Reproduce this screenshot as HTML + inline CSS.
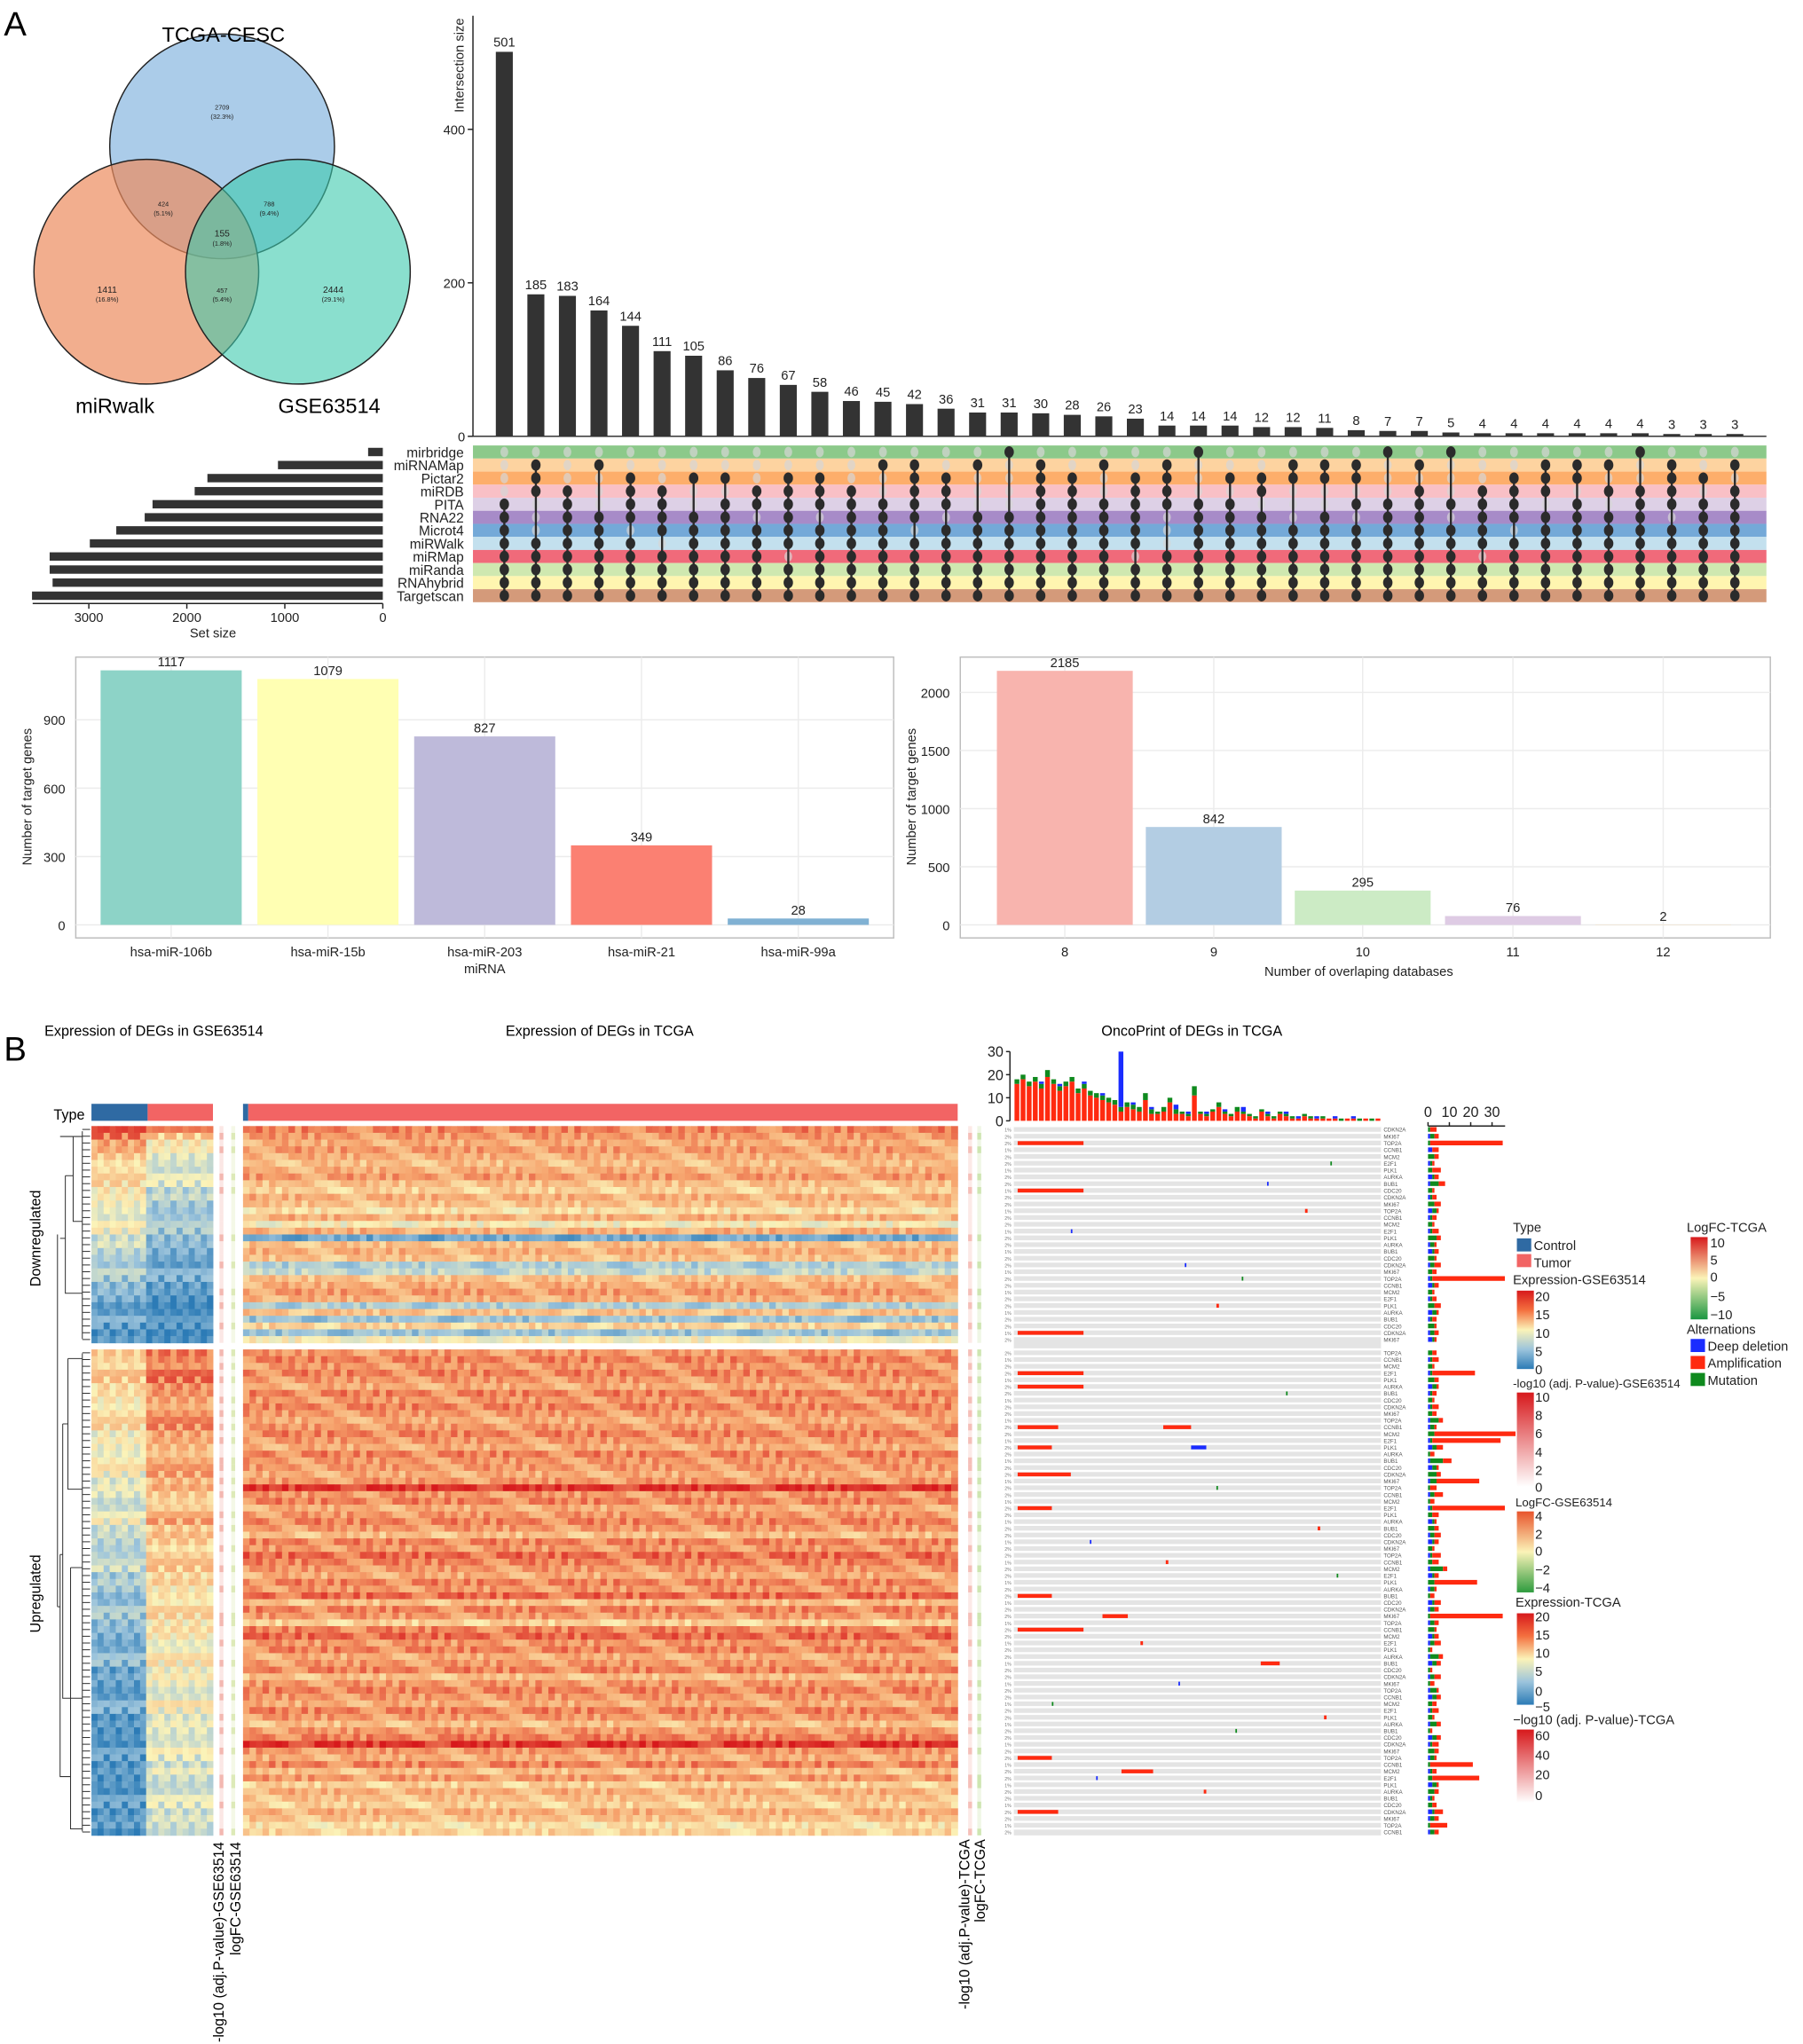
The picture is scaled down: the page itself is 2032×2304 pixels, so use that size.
<!DOCTYPE html>
<html><head><meta charset="utf-8">
<style>
html,body{margin:0;padding:0;background:#fff;}
svg{display:block;font-family:"Liberation Sans",sans-serif;}
</style></head>
<body>
<svg id="fig" width="2032" height="2304" viewBox="0 0 1380 1564.7" xmlns="http://www.w3.org/2000/svg">
<defs>
<linearGradient id="gExp" x1="0" y1="0" x2="0" y2="1"><stop offset="0" stop-color="#d7191c"/><stop offset="0.25" stop-color="#f4703f"/><stop offset="0.5" stop-color="#fbf3b8"/><stop offset="0.75" stop-color="#9cc4dc"/><stop offset="1" stop-color="#2c7bb6"/></linearGradient>
<linearGradient id="gP" x1="0" y1="0" x2="0" y2="1"><stop offset="0" stop-color="#d7191c"/><stop offset="1" stop-color="#ffffff"/></linearGradient>
<linearGradient id="gFC" x1="0" y1="0" x2="0" y2="1"><stop offset="0" stop-color="#e8542c"/><stop offset="0.5" stop-color="#fbf3b8"/><stop offset="1" stop-color="#2e9b3e"/></linearGradient>
<linearGradient id="gFC2" x1="0" y1="0" x2="0" y2="1"><stop offset="0" stop-color="#d7191c"/><stop offset="0.5" stop-color="#fbf3b8"/><stop offset="1" stop-color="#1a9641"/></linearGradient>
</defs>
<g id="root"></g>
<g>
<text x="3" y="27" font-size="26">A</text>
<text x="3" y="812" font-size="26">B</text>
</g>
<g>
<circle cx="170" cy="112" r="86" fill="#8fbbe2" fill-opacity="0.75" stroke="#222"/>
<circle cx="112" cy="208" r="86" fill="#ec8b5e" fill-opacity="0.7" stroke="#222"/>
<circle cx="228" cy="208" r="86" fill="#3cc9ad" fill-opacity="0.6" stroke="#222"/>
<g font-size="5" text-anchor="middle" fill="#222">
<text x="170" y="84">2709</text><text x="170" y="91">(32.3%)</text>
<text x="125" y="158">424</text><text x="125" y="165">(5.1%)</text>
<text x="206" y="158">788</text><text x="206" y="165">(9.4%)</text>
<text x="170" y="181" font-size="7">155</text><text x="170" y="188">(1.8%)</text>
<text x="82" y="224" font-size="7">1411</text><text x="82" y="231">(16.8%)</text>
<text x="170" y="224">457</text><text x="170" y="231">(5.4%)</text>
<text x="255" y="224" font-size="7">2444</text><text x="255" y="231">(29.1%)</text>
</g>
<text x="171" y="32" font-size="16" text-anchor="middle">TCGA-CESC</text>
<text x="88" y="316" font-size="16" text-anchor="middle">miRwalk</text>
<text x="252" y="316" font-size="16" text-anchor="middle">GSE63514</text>
</g>
<g font-size="11">
<text x="34" y="793">Expression of DEGs in GSE63514</text>
<text x="387" y="793">Expression of DEGs in TCGA</text>
<text x="843" y="793">OncoPrint of DEGs in TCGA</text>
<text x="41" y="857">Type</text>
<text transform="translate(31,948) rotate(-90)" text-anchor="middle">Downregulated</text>
<text transform="translate(31,1220) rotate(-90)" text-anchor="middle">Upregulated</text>
<text transform="translate(171,1410) rotate(-90)" text-anchor="end">-log10 (adj.P-value)-GSE63514</text>
<text transform="translate(184,1410) rotate(-90)" text-anchor="end">logFC-GSE63514</text>
<text transform="translate(742,1408) rotate(-90)" text-anchor="end">-log10 (adj.P-value)-TCGA</text>
<text transform="translate(754,1408) rotate(-90)" text-anchor="end">logFC-TCGA</text>
</g>
<g font-size="10" fill="#222">
<text x="1158" y="943">Type</text>
<rect x="1161" y="948" width="11" height="10" fill="#2f6aa3"/><text x="1174" y="957">Control</text>
<rect x="1161" y="960" width="11" height="10" fill="#f26464"/><text x="1174" y="970">Tumor</text>
<text x="1158" y="983">Expression-GSE63514</text>
<rect x="1161" y="988" width="13" height="60" fill="url(#gExp)"/>
<g font-size="10"><text x="1175" y="996">20</text><text x="1175" y="1010">15</text><text x="1175" y="1024">10</text><text x="1175" y="1038">5</text><text x="1175" y="1052">0</text></g>
<text x="1158" y="1062" font-size="9">-log10 (adj. P-value)-GSE63514</text>
<rect x="1161" y="1066" width="13" height="72" fill="url(#gP)"/>
<g><text x="1175" y="1073">10</text><text x="1175" y="1087">8</text><text x="1175" y="1101">6</text><text x="1175" y="1115">4</text><text x="1175" y="1129">2</text><text x="1175" y="1142">0</text></g>
<text x="1160" y="1153" font-size="9">LogFC-GSE63514</text>
<rect x="1161" y="1157" width="13" height="62" fill="url(#gFC)"/>
<g><text x="1175" y="1164">4</text><text x="1175" y="1178">2</text><text x="1175" y="1191">0</text><text x="1175" y="1205">−2</text><text x="1175" y="1219">−4</text></g>
<text x="1160" y="1230">Expression-TCGA</text>
<rect x="1161" y="1235" width="13" height="70" fill="url(#gExp)"/>
<g><text x="1175" y="1241">20</text><text x="1175" y="1255">15</text><text x="1175" y="1269">10</text><text x="1175" y="1283">5</text><text x="1175" y="1298">0</text><text x="1175" y="1310">−5</text></g>
<text x="1158" y="1320">−log10 (adj. P-value)-TCGA</text>
<rect x="1161" y="1324" width="13" height="56" fill="url(#gP)"/>
<g><text x="1175" y="1332">60</text><text x="1175" y="1347">40</text><text x="1175" y="1362">20</text><text x="1175" y="1378">0</text></g>
<text x="1291" y="943">LogFC-TCGA</text>
<rect x="1294" y="947" width="13" height="63" fill="url(#gFC2)"/>
<g><text x="1309" y="955">10</text><text x="1309" y="968">5</text><text x="1309" y="981">0</text><text x="1309" y="996">−5</text><text x="1309" y="1010">−10</text></g>
<text x="1291" y="1021">Alternations</text>
<rect x="1294" y="1025" width="11" height="10" fill="#1a2cff"/><text x="1307" y="1034">Deep deletion</text>
<rect x="1294" y="1038" width="11" height="10" fill="#ff2a10"/><text x="1307" y="1047">Amplification</text>
<rect x="1294" y="1051" width="11" height="10" fill="#0f8a1e"/><text x="1307" y="1060">Mutation</text>
</g>
</svg>
<script>
// ---------- DATA ----------
const upsetValues=[501,185,183,164,144,111,105,86,76,67,58,46,45,42,36,31,31,30,28,26,23,14,14,14,12,12,11,8,7,7,5,4,4,4,4,4,4,3,3,3];
const setNames=["mirbridge","miRNAMap","Pictar2","miRDB","PITA","RNA22","Microt4","miRWalk","miRMap","miRanda","RNAhybrid","Targetscan"];
const setSizes=[150,1070,1790,1920,2350,2430,2720,2990,3400,3400,3370,3580];
const setColors=["#8cc98a","#fdd3a0","#fdae6b","#f9c0c6","#ddd0e6","#a78bc8","#74a9d8","#c3e0ee","#f06a7a","#cfe8b0","#fff5b0","#d49a7a"];
const upsetMembership=["000011111111","011100011111","000111111111","010001111111","001111011111","000111101111","001001111111","001011111111","000110111111","001111110111","001110111111","000111111111","010011111111","011111011111","001110111111","010001111111","100001111111","011111111111","001111111111","010011111111","001111110111","011110001111","100011111111","001011111111","001101111111","011000111111","011001111111","011010111111","100011111111","010111111111","100010111111","000111110111","001111011111","011101111111","011011111111","010101111111","100111111111","011110111111","001011111111","010111111111"];
const mirnaNames=["hsa-miR-106b","hsa-miR-15b","hsa-miR-203","hsa-miR-21","hsa-miR-99a"];
const mirnaCounts=[1117,1079,827,349,28];
const mirnaColors=["#8dd3c7","#ffffb3","#bebada","#fb8072","#80b1d3"];
const dbCats=["8","9","10","11","12"];
const dbCounts=[2185,842,295,76,2];
const dbColors=["#f8b4ae","#b3cde3","#ccebc5","#decbe4","#fed9a6"];
const gseDownCtrl=[17,16,15,14,13,12,12,11,11,11,10,10,10,9,9,9,8,8,7,7,6,6,5,5,4,4,3,3,3,2,2,2];
const gseDownTum=[15,12,11,10,9,9,8,8,8,7,7,6,6,6,5,5,5,4,4,4,3,3,3,3,2,2,2,2,1,1,1,1];
const gseUpCtrl=[13,13,12,12,12,12,11,11,11,12,11,11,10,10,10,10,11,10,9,9,9,9,8,8,8,9,8,7,7,7,7,6,7,6,6,6,5,5,5,5,5,4,4,4,4,4,4,3,3,3,3,3,3,3,2,2,2,3,2,2,2,2,2,2,3,2,2,2,2,2,3,2];
const gseUpTum=[17,17,16,16,16,16,15,15,15,16,15,15,15,14,14,14,15,14,14,14,14,13,13,13,13,14,13,13,13,12,13,12,12,12,12,11,12,11,11,11,11,11,11,10,10,10,10,10,10,10,9,9,10,9,9,9,9,9,9,9,8,8,9,8,8,8,8,8,8,8,8,8];
const tcgaDown=[16,15,14,15,14,13,14,15,13,12,14,13,11,14,10,14,3,13,14,13,6,7,13,14,15,14,6,13,5,12,5,10];
const tcgaUp=[15,16,15,16,15,14,16,15,16,15,14,15,16,15,14,16,15,15,14,15,19,15,16,14,15,16,15,13,16,15,17,16,15,14,16,15,17,13,16,15,12,16,17,15,16,14,15,16,13,15,16,15,14,16,15,13,15,16,19,15,14,16,13,15,12,14,13,12,14,13,11,12];
const colJitter=[0.5,-1,0.3,1,-0.6,0.2,-1.2,0.8,0,-0.4,1.1,-0.8,0.4,-0.2,0.9,-0.5,0.7,-0.9,0.1,-1.1,0.6];
const oncoTopAmp=[16,18,15,17,14,19,16,13,15,17,12,14,11,10,9,8,7,4,6,5,4,9,3,3,4,8,3,3,2,11,3,2,4,6,3,2,4,3,2,1,4,2,1,3,2,1,1,2,1,1,1,1,1,0,1,1,0,1,0,1];
const oncoTopMut=[2,2,2,2,2,3,2,2,2,2,2,2,2,2,2,2,2,2,2,2,2,3,2,1,2,2,2,1,1,4,1,1,1,2,1,1,2,1,1,1,1,1,1,1,1,1,0,1,1,0,1,0,0,1,0,0,1,0,1,0];
const oncoTopDel=[0,0,0,0,1,0,0,1,0,0,0,1,0,0,1,0,0,24,0,1,0,0,1,0,0,0,2,0,1,0,0,1,0,0,1,0,0,2,0,0,0,1,0,0,1,0,1,0,0,1,0,0,1,0,0,1,0,0,0,0];
const oncoRightAmp=[3,2,34,3,2,1,4,2,3,1,2,3,1,2,1,3,2,1,2,1,3,2,34,2,1,2,3,1,2,1,2,1,2,3,1,20,2,1,2,1,3,2,2,1,38,32,3,2,4,1,2,20,3,4,2,34,3,1,2,3,2,1,4,3,2,2,20,1,2,3,2,34,2,1,2,3,1,2,2,1,3,2,1,2,2,3,1,2,1,2,3,2,1,20,2,22,1,2,1,2,4,2,8,2];
const oncoRightMut=[1,2,1,0,3,1,2,1,4,2,1,3,2,1,2,1,4,2,1,3,2,2,1,1,2,1,3,2,1,3,2,1,2,1,2,1,3,2,1,2,1,2,4,2,3,1,2,1,6,2,4,3,1,2,1,1,2,1,3,2,1,2,1,2,6,1,3,2,1,1,2,1,2,3,1,2,1,4,2,1,2,1,3,2,2,1,2,3,1,2,1,3,2,1,1,2,2,3,1,2,1,2,1,2];
const oncoRightDel=[0,1,0,2,0,1,0,2,1,0,1,0,2,1,0,1,0,1,2,0,1,0,1,2,0,1,0,2,1,0,1,2,0,1,0,1,0,2,1,0,1,0,1,1,0,1,2,0,1,2,0,1,0,1,0,1,0,2,0,1,2,0,1,0,1,2,0,1,0,2,1,0,1,0,2,1,0,1,2,0,1,0,1,2,0,1,0,1,0,2,1,0,1,0,1,0,2,0,1,0,2,1,0,1];
const oncoSegs=[[2,3,55,"amp"],[9,3,55,"amp"],[30,3,55,"amp"],[35,3,55,"amp"],[37,3,55,"amp"],[43,3,35,"amp"],[46,3,30,"amp"],[50,3,45,"amp"],[55,3,30,"amp"],[68,3,30,"amp"],[71,70,90,"amp"],[73,3,55,"amp"],[92,3,30,"amp"],[94,85,110,"amp"],[100,3,35,"amp"],[43,118,140,"amp"],[78,195,210,"amp"],[20,135,136,"del"],[15,45,46,"del"],[8,200,201,"del"],[46,140,152,"del"],[60,60,61,"del"],[81,130,131,"del"],[95,65,66,"del"],[5,250,251,"mut"],[22,180,181,"mut"],[38,215,216,"mut"],[52,160,161,"mut"],[65,255,256,"mut"],[84,30,31,"mut"],[88,175,176,"mut"],[12,230,232,"amp"],[26,160,162,"amp"],[58,240,242,"amp"],[63,120,122,"amp"],[75,100,102,"amp"],[86,245,247,"amp"],[97,150,152,"amp"]];

// ---------- HELPERS ----------
const NS="http://www.w3.org/2000/svg";
const root=document.getElementById('root');
function mk(tag,attrs,parent){const e=document.createElementNS(NS,tag);for(const k in attrs)e.setAttribute(k,attrs[k]);(parent||root).appendChild(e);return e;}
function txt(x,y,s,size,anchor,parent){const e=mk('text',{x:x,y:y,'font-size':size,'text-anchor':anchor||'start',fill:'#222'},parent);e.textContent=s;return e;}
function lerp(a,b,t){return a+(b-a)*t;}
function hex(c){return [parseInt(c.slice(1,3),16),parseInt(c.slice(3,5),16),parseInt(c.slice(5,7),16)];}
const expStops=[[0,"#2c7bb6"],[5,"#9cc4dc"],[10,"#fbf3b8"],[15,"#f6a06a"],[20,"#d7191c"]];
function expColor(v){v=Math.max(0,Math.min(20,v));for(let i=0;i<expStops.length-1;i++){const[a,ca]=expStops[i],[b,cb]=expStops[i+1];if(v<=b){const t=(v-a)/(b-a);const A=hex(ca),B=hex(cb);return `rgb(${Math.round(lerp(A[0],B[0],t))},${Math.round(lerp(A[1],B[1],t))},${Math.round(lerp(A[2],B[2],t))})`;}}return expStops[4][1];}

// ---------- UPSET TOP BARS ----------
const uY0=334, uScale=235/400;
function uy(v){return uY0-v*uScale;}
function ux(i){return 386+i*24.15;}
const gUp=mk('g',{});


const uAxis=mk('line',{x1:362,y1:12,x2:362,y2:uY0,stroke:'#222'},gUp);


const uBase=mk('line',{x1:362,y1:uY0,x2:1352,y2:uY0,stroke:'#222'},gUp);


[0,200,400].forEach(t=>{mk('line',{x1:358,y1:uy(t),x2:362,y2:uy(t),stroke:'#222'},gUp);const l=txt(356,uy(t)+4,String(t),10,'end',gUp);});
const uTitle=txt(0,0,'Intersection size',10,'middle',gUp);
uTitle.setAttribute('transform','translate(355,50) rotate(-90)');


upsetValues.forEach((v,i)=>{const b=mk('rect',{x:ux(i)-6.5,y:uy(v),width:13,height:v*uScale,fill:'#333'},gUp);


const l=txt(ux(i),uy(v)-4,String(v),10,'middle',gUp);

});

// ---------- UPSET MATRIX ----------
const gM=mk('g',{});


function ry(r){return 346+r*10;}
setNames.forEach((n,r)=>{const s=mk('rect',{x:362,y:ry(r)-5,width:990,height:10,fill:setColors[r]},gM);


const l=txt(355,ry(r)+4,n,10.5,'end',gM);

});
upsetMembership.forEach((m,i)=>{let lo=99,hi=-1;for(let r=0;r<12;r++){if(m[r]==='1'){lo=Math.min(lo,r);hi=Math.max(hi,r);}}
for(let r=0;r<12;r++){if(m[r]!=='1'){const d=mk('ellipse',{cx:ux(i),cy:ry(r),rx:3,ry:4,fill:'#d6d6d6','fill-opacity':0.7},gM);}}
const ln=mk('line',{x1:ux(i),y1:ry(lo),x2:ux(i),y2:ry(hi),stroke:'#2b2b2b','stroke-width':1.6},gM);


for(let r=0;r<12;r++){if(m[r]==='1'){const d=mk('ellipse',{cx:ux(i),cy:ry(r),rx:3.6,ry:4.4,fill:'#2b2b2b'},gM);}}});

// ---------- SET SIZE BARS ----------
const gS=mk('g',{});


function sx(v){return 293-v*0.075;}
setSizes.forEach((v,r)=>{const b=mk('rect',{x:sx(v),y:ry(r)-3.2,width:v*0.075,height:6.4,fill:'#333'},gS);

});
const sAx=mk('line',{x1:25,y1:462,x2:293,y2:462,stroke:'#222'},gS);


[3000,2000,1000,0].forEach(t=>{mk('line',{x1:sx(t),y1:462,x2:sx(t),y2:466,stroke:'#222'},gS);const l=txt(sx(t),476,String(t),10,'middle',gS);});
const sT=txt(163,488,'Set size',10,'middle',gS);



// ---------- BAR CHARTS ----------
function barChart(name,x0,x1,cats,vals,cols,yMax,ticks,scale,xTitle,xs,bw){
const g=mk('g',{});


const y0=708;
function by(v){return y0-v*scale;}
const fr=mk('rect',{x:x0,y:503,width:x1-x0,height:215,fill:'#fff',stroke:'#bdbdbd'},g);


ticks.forEach(t=>{mk('line',{x1:x0,y1:by(t),x2:x1,y2:by(t),stroke:'#ececec'},g);
const l=txt(x0-8,by(t)+4,String(t),10,'end',g);

});
cats.forEach((c,i)=>{mk('line',{x1:xs[i],y1:503,x2:xs[i],y2:718,stroke:'#ececec'},g);});
cats.forEach((c,i)=>{const b=mk('rect',{x:xs[i]-bw/2,y:by(vals[i]),width:bw,height:vals[i]*scale,fill:cols[i]},g);


const v=txt(xs[i],by(vals[i])-3,String(vals[i]),10,'middle',g);


const l=txt(xs[i],732,c,10,'middle',g);

});
const xt=txt(xTitle[1],xTitle[2],xTitle[0],10,'middle',g);


const yt=txt(0,0,'Number of target genes',10,'middle',g);
yt.setAttribute('transform',`translate(${x0-34},610) rotate(-90)`);


}
barChart('mirna-target-bar-chart',58,684,mirnaNames,mirnaCounts,mirnaColors,1117,[0,300,600,900],157/900,['miRNA',371,745],[131,251,371,491,611],108);
barChart('database-overlap-bar-chart',735,1355,dbCats,dbCounts,dbColors,2185,[0,500,1000,1500,2000],178/2000,['Number of overlaping databases',1040,747],[815,929,1043,1158,1273],104);

// ---------- HEATMAPS ----------
const downH=166/32, upH=372/72;
function rowY(r){return r<32?862+r*downH:1033+(r-32)*upH;}
function rowH(r){return r<32?downH:upH;}
const gTA=mk('g',{});


[[70,43,'#2f6aa3'],[113,50,'#f26464'],[186,4,'#2f6aa3'],[190,543,'#f26464']].forEach(a=>{const r=mk('rect',{x:a[0],y:845,width:a[1],height:13,fill:a[2]},gTA);});
const gG=mk('g',{});


const gseCols=20, gseCw=93/gseCols;
for(let r=0;r<104;r++){const ctrl=r<32?gseDownCtrl[r]:gseUpCtrl[r-32];const tum=r<32?gseDownTum[r]:gseUpTum[r-32];
for(let c=0;c<gseCols;c++){const base=c<9?ctrl:tum;const v=base+colJitter[(c*7+r*3)%colJitter.length]*2;
const cell=mk('rect',{x:70+c*gseCw,y:rowY(r),width:gseCw+0.3,height:rowH(r)+0.3,fill:expColor(v)},gG);

}}
const gT=mk('g',{});


const tCols=110, tCw=547/tCols;
for(let r=0;r<104;r++){const base=r<32?tcgaDown[r]:tcgaUp[r-32];
for(let c=0;c<tCols;c++){const v=base+colJitter[(c*5+r*11)%colJitter.length]*1.6;
const cell=mk('rect',{x:186+c*tCw,y:rowY(r),width:tCw+0.3,height:rowH(r)+0.3,fill:expColor(v)},gT);

}}
const gAn=mk('g',{});


[[168,'#f2b0a8'],[177,'#d9e8b0'],[741,'#f4b8b0'],[748,'#c9e2a8']].forEach(a=>{for(let r=0;r<104;r++){const v=r<32?tcgaDown[r]:tcgaUp[r-32];
const cell=mk('rect',{x:a[0],y:rowY(r),width:3,height:rowH(r),fill:a[1],'fill-opacity':(v%3===0)?0.9:0.3},gAn);

}});
const gD=mk('g',{stroke:'#333','stroke-width':0.7,fill:'none'});


for(let r=0;r<104;r++){mk('line',{x1:63,y1:rowY(r)+rowH(r)/2,x2:69,y2:rowY(r)+rowH(r)/2},gD);}
const dpaths=["M63,866 V1025","M56,870 H63 M56,870 V935 H63","M50,900 H56 M50,900 V990 H63","M46,948 H50 M46,870 H56","M44,945 V1230","M52,1040 V1140 H63 M52,1040 H63","M48,1090 H52 M48,1090 V1300 H63","M54,1200 V1400 H63 M54,1200 H63","M46,1190 H48 M46,1190 V1360 H54","M44,1230 H46","M63,1036 V1402"];
dpaths.forEach(d=>{const p=mk('path',{d:d},gD);});

// ---------- ONCOPRINT ----------
const gO=mk('g',{});


const oX0=776,oW=281,oCw=oW/290;
function oxc(c){return oX0+c*oCw;}
const oBg=mk('rect',{x:oX0,y:862,width:oW,height:543,fill:'#e4e4e4'},gO);


for(let r=0;r<104;r++){mk('line',{x1:oX0,y1:rowY(r),x2:oX0+oW,y2:rowY(r),stroke:'#fff','stroke-width':1.6},gO);}
const altColor={amp:'#ff2a10',del:'#1a2cff',mut:'#0f8a1e'};
oncoSegs.forEach(s=>{const e=mk('rect',{x:oxc(s[1]),y:rowY(s[0])+1.2,width:Math.max(1.2,(s[2]-s[1])*oCw),height:rowH(s[0])-2.2,fill:altColor[s[3]]},gO);

});
const gOT=mk('g',{});


const otY0=858, otS=53/30, otW=oW/oncoTopAmp.length;
function oty(v){return otY0-v*otS;}
oncoTopAmp.forEach((a,i)=>{const x=oX0+i*otW;let y=otY0;
[[a,'#ff2a10'],[oncoTopMut[i],'#0f8a1e'],[oncoTopDel[i],'#1a2cff']].forEach(p=>{if(p[0]>0){const b=mk('rect',{x:x+0.5,y:y-p[0]*otS,width:otW-1,height:p[0]*otS,fill:p[1]},gOT);y-=p[0]*otS;}});});
mk('line',{x1:773,y1:oty(0),x2:773,y2:oty(30),stroke:'#222'},gOT);
[0,10,20,30].forEach(t=>{mk('line',{x1:770,y1:oty(t),x2:773,y2:oty(t),stroke:'#222'},gOT);const l=txt(768,oty(t)+4,String(t),11,'end',gOT);});
const gOR=mk('g',{});


const orX0=1093, orS=49/30;
function orx(v){return orX0+v*orS;}
for(let r=0;r<104;r++){let x=orX0;const yy=rowY(r)+0.8,hh=rowH(r)-1.6;
[[oncoRightDel[r],'#1a2cff'],[oncoRightMut[r],'#0f8a1e'],[oncoRightAmp[r],'#ff2a10']].forEach(p=>{if(p[0]>0){const b=mk('rect',{x:x,y:yy,width:p[0]*orS,height:hh,fill:p[1]},gOR);x+=p[0]*orS;}});}
mk('line',{x1:orX0,y1:862,x2:orx(30)+10,y2:862,stroke:'#222'},gOR);
[0,10,20,30].forEach(t=>{mk('line',{x1:orx(t),y1:859,x2:orx(t),y2:862,stroke:'#222'},gOR);const l=txt(orx(t),855,String(t),11,'middle',gOR);});
const gGL=mk('g',{});


const geneStubs=["CDKN2A","MKI67","TOP2A","CCNB1","MCM2","E2F1","PLK1","AURKA","BUB1","CDC20"];
for(let r=0;r<104;r++){const l=txt(1059,rowY(r)+rowH(r)-0.8,geneStubs[r%geneStubs.length],4.2,'start',gGL);l.setAttribute('fill','#555');


const l2=txt(774,rowY(r)+rowH(r)-0.8,(r%3?'2%':'1%'),3.5,'end',gGL);l2.setAttribute('fill','#777');

}
</script>
</body></html>
